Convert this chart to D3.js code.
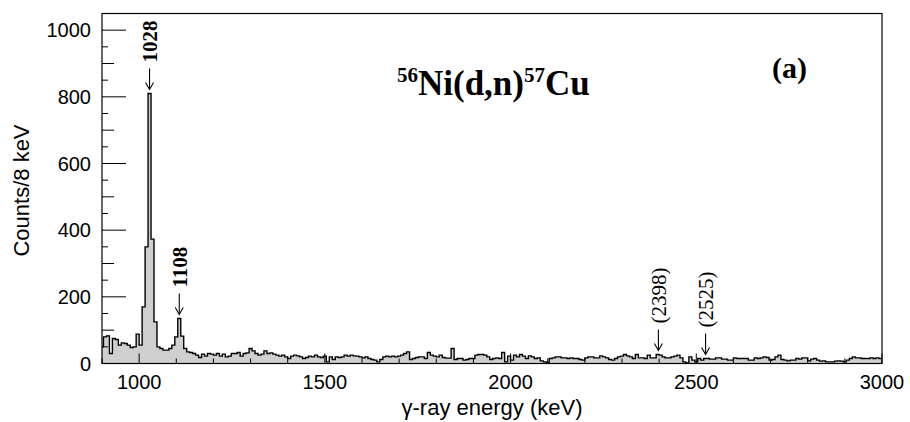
<!DOCTYPE html>
<html>
<head>
<meta charset="utf-8">
<script src="https://cdn.jsdelivr.net/npm/d3@7"></script>
<style>
  html, body { margin: 0; padding: 0; background: #fff; }
  svg { display: block; }
</style>
</head>
<body>
<svg id="chart" width="910" height="422"></svg>
<script>
// Gamma-ray spectrum, 8 keV bins; first bin starts at 896 keV
const binStart = 896;
const binWidth = 8;
const counts = [
  // 896 - 1224
  50, 80, 83, 30, 75, 72, 55, 62, 60, 55, 48, 50, 88, 55, 170, 350, 810, 373, 125, 50,
  45, 40, 40, 45, 55, 80, 135, 82, 45, 35, 33, 30, 25, 18, 28, 22, 30, 28, 25, 30, 22, 28,
  // 1232 - 1568
  20, 22, 30, 30, 33, 22, 30, 32, 45, 38, 30, 25, 28, 38, 30, 32, 28, 25, 22, 25,
  20, 15, 22, 25, 23, 20, 15, 18, 22, 20, 25, 20, 18, 22, 5, 20, 12, 20, 18, 20, 25, 22, 25,
  // 1576 - 1920
  23, 22, 20, 17, 20, 15, 12, 10, 5, 12, 20, 22, 20, 22, 20, 22, 25, 30, 35, 12,
  15, 18, 20, 20, 15, 33, 25, 22, 20, 25, 18, 16, 16, 45, 12, 15, 15, 10, 12, 15, 15, 25, 27, 27,
  // 1928 - 2272
  25, 20, 12, 15, 17, 15, 33, 5, 22, 10, 25, 20, 27, 22, 15, 23, 20, 15, 17, 8,
  5, 3, 15, 17, 20, 20, 17, 17, 15, 17, 15, 15, 12, 10, 17, 20, 20, 17, 17, 23, 20, 17, 12, 10,
  // 2280 - 2616
  15, 20, 22, 27, 23, 20, 15, 27, 17, 17, 15, 25, 17, 17, 27, 25, 20, 17, 17, 20,
  22, 25, 17, 5, 2, 20, 10, 5, 15, 10, 15, 15, 13, 13, 17, 17, 13, 13, 10, 10, 17, 15, 15,
  // 2624 - 2992
  15, 15, 10, 10, 17, 15, 17, 20, 18, 10, 12, 20, 25, 12, 10, 8, 10, 10, 15, 13,
  17, 17, 8, 13, 15, 10, 7, 8, 5, 5, 5, 7, 8, 7, 5, 10, 15, 20, 17, 17,
  15, 15, 15, 17, 15, 17, 15
];

// Annotated transitions (keV)
const peakEnergies = [1028, 1108, 2398, 2525];
const peakLabels = ["1028", "1108", "(2398)", "(2525)"];
const peakBold = [true, true, false, false];

// Axis ranges and tick labels
const xDomain = [900, 3000];
const yDomain = [0, 1050];
const xTickValues = [1000, 1500, 2000, 2500, 3000];
const yTickValues = [0, 200, 400, 600, 800, 1000];

const svg = d3.select("#chart");
const plot = { left: 102, right: 882, top: 13.5, bottom: 363.5 };

const x = d3.scaleLinear().domain(xDomain).range([plot.left, plot.right]);
const y = d3.scaleLinear().domain(yDomain).range([plot.bottom, plot.top]);

const bins = counts.map((c, i) => ({
  x0: binStart + i * binWidth,
  x1: binStart + (i + 1) * binWidth,
  c: c
}));

// Clip the histogram to the frame
svg.append("defs").append("clipPath").attr("id", "frameClip")
  .append("rect")
  .attr("x", plot.left).attr("y", plot.top)
  .attr("width", plot.right - plot.left).attr("height", plot.bottom - plot.top);

// Step outline points
const stepPts = [];
bins.forEach(b => { stepPts.push([b.x0, b.c]); stepPts.push([b.x1, b.c]); });

const area = d3.area()
  .x(d => x(d[0]))
  .y0(y(0))
  .y1(d => y(d[1]));
const line = d3.line()
  .x(d => x(d[0]))
  .y(d => y(d[1]));

const g = svg.append("g").attr("clip-path", "url(#frameClip)");
g.append("path").datum(stepPts)
  .attr("d", area)
  .attr("fill", "#cfcfcf")
  .attr("stroke", "none");
g.append("path").datum(stepPts)
  .attr("d", line)
  .attr("fill", "none")
  .attr("stroke", "#000")
  .attr("stroke-width", 1.4);

// Frame
svg.append("rect")
  .attr("x", plot.left).attr("y", plot.top)
  .attr("width", plot.right - plot.left).attr("height", plot.bottom - plot.top)
  .attr("fill", "none").attr("stroke", "#000").attr("stroke-width", 1.2);

// Ticks (drawn inside the frame)
const axisG = svg.append("g").attr("stroke", "#000").attr("stroke-width", 1);
d3.range(xDomain[0], xDomain[1] + 1, 100).forEach(v => {
  const major = v % 500 === 0;
  const len = major ? 10 : 5;
  axisG.append("line")
    .attr("x1", x(v)).attr("x2", x(v))
    .attr("y1", plot.bottom).attr("y2", plot.bottom - len);
});
d3.range(0, yDomain[1] + 1, 50).forEach(v => {
  const len = v % 200 === 0 ? 24 : (v % 100 === 0 ? 12 : 6);
  axisG.append("line")
    .attr("x1", plot.left).attr("x2", plot.left + len)
    .attr("y1", y(v)).attr("y2", y(v));
});

const sans = "'Liberation Sans', Arial, Helvetica, sans-serif";
const serif = "'Liberation Serif', 'Times New Roman', Times, serif";

// Tick labels
svg.append("g").selectAll("text").data(xTickValues).join("text")
  .attr("x", d => x(d)).attr("y", 389)
  .attr("text-anchor", "middle")
  .attr("font-family", sans).attr("font-size", 20)
  .text(d => d);
svg.append("g").selectAll("text").data(yTickValues).join("text")
  .attr("x", 91).attr("y", d => y(d)).attr("dy", "0.35em")
  .attr("text-anchor", "end")
  .attr("font-family", sans).attr("font-size", 20)
  .text(d => d);

// Axis titles
svg.append("text")
  .attr("x", (plot.left + plot.right) / 2).attr("y", 415)
  .attr("text-anchor", "middle")
  .attr("font-family", sans).attr("font-size", 22)
  .text("γ-ray energy (keV)");
svg.append("text")
  .attr("transform", `translate(29, ${(plot.top + plot.bottom) / 2 + 2}) rotate(-90)`)
  .attr("text-anchor", "middle")
  .attr("font-family", sans).attr("font-size", 22)
  .text("Counts/8 keV");

// Reaction title
const title = svg.append("text")
  .attr("x", 397).attr("y", 95)
  .attr("font-family", serif).attr("font-weight", "bold").attr("font-size", 35);
title.append("tspan").attr("font-size", 21).attr("dy", -13).text("56");
title.append("tspan").attr("dy", 13).text("Ni(d,n)");
title.append("tspan").attr("font-size", 21).attr("dy", -13).text("57");
title.append("tspan").attr("dy", 13).text("Cu");

svg.append("text")
  .attr("x", 772).attr("y", 78)
  .attr("font-family", serif).attr("font-weight", "bold").attr("font-size", 30)
  .text("(a)");

// Peak markers: arrow plus rotated energy label
function countAt(e) {
  const i = Math.floor((e - binStart) / binWidth);
  return counts[i];
}
peakEnergies.forEach((e, i) => {
  const px = x(e);
  const tip = y(countAt(e)) - 4;
  const ann = svg.append("g");
  ann.append("line")
    .attr("x1", px).attr("x2", px)
    .attr("y1", tip - 21).attr("y2", tip)
    .attr("stroke", "#000").attr("stroke-width", 1.1);
  ann.append("path")
    .attr("d", `M${px - 4},${tip - 7} L${px},${tip} L${px + 4},${tip - 7}`)
    .attr("fill", "none").attr("stroke", "#000").attr("stroke-width", 1.1);
  ann.append("text")
    .attr("transform", `translate(${px}, ${tip - 27}) rotate(-90)`)
    .attr("dy", "0.35em")
    .attr("text-anchor", "start")
    .attr("font-family", serif)
    .attr("font-weight", peakBold[i] ? "bold" : "normal")
    .attr("font-size", 21)
    .text(peakLabels[i]);
});
</script>
</body>
</html>
